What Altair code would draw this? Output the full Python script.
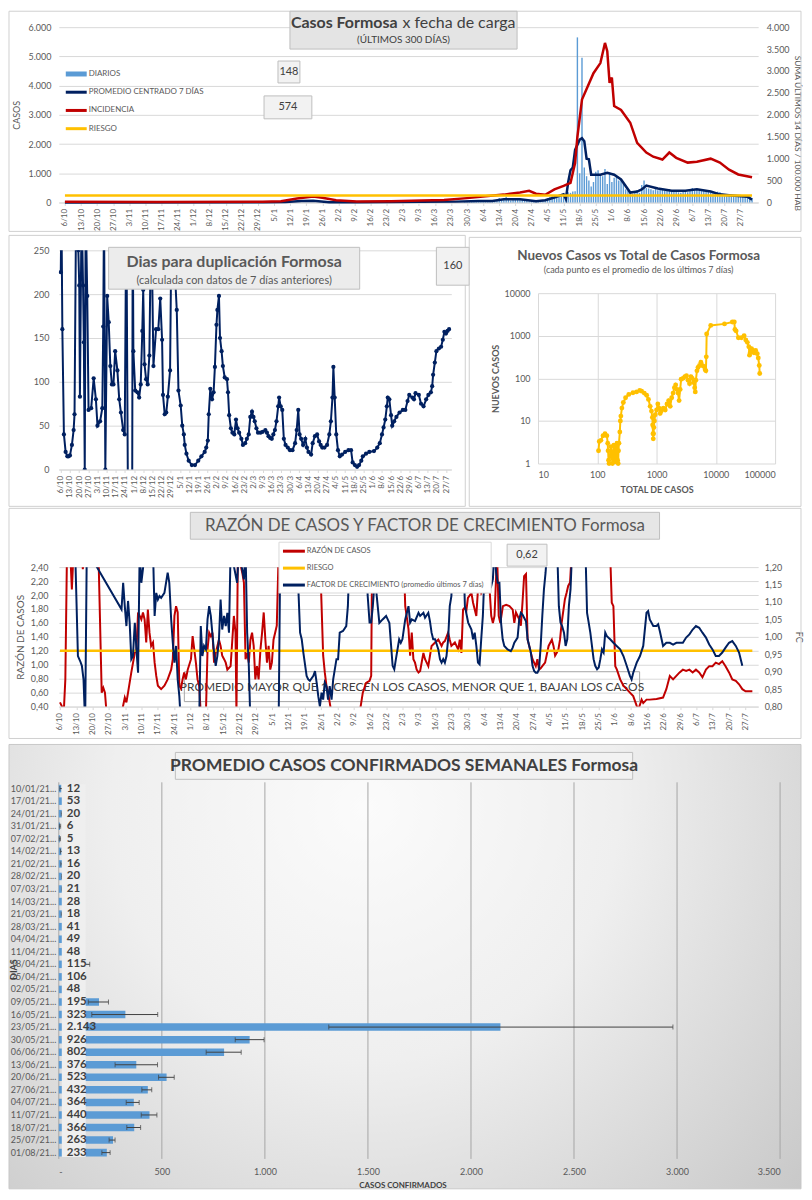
import altair as alt
import pandas as pd

FONT = "Lato"
TXT = "#595959"
DARK = "#404040"
GRID = "#d9d9d9"
BORDER = "#d0d0d0"
C_BAR = "#5b9bd5"
C_NAVY = "#002060"
C_RED = "#c00000"
C_YEL = "#ffc000"

START = "2020-10-06"
TICK_START, TICK_END = "2020-10-06", "2021-07-27"

# ---------------- top chart data ----------------
DAILY_START = "2021-03-29"
DAILY = [35, 60, 45, 55, 40, 50, 58, 42, 55, 60, 38, 50, 45, 46,
         80, 150, 120, 95, 200, 90, 70, 130, 90, 110, 120, 85, 100, 107,
         40, 55, 60, 35, 50, 45, 51, 120, 150, 180, 210, 250, 230, 225,
         240, 280, 300, 350, 330, 380, 381, 5650, 1000, 4950, 1200, 900, 750, 551,
         700, 1050, 1100, 950, 900, 1150, 632, 1000, 700, 850, 900, 750, 780, 634,
         450, 400, 350, 300, 380, 420, 332, 600, 750, 500, 480, 450, 420, 461,
         420, 480, 450, 400, 430, 460, 384, 380, 400, 350, 330, 360, 380, 348,
         420, 500, 460, 430, 450, 410, 410, 400, 380, 350, 360, 340, 370, 362,
         300, 280, 270, 250, 260, 240, 241, 250, 260, 250, 240, 245, 238, 148]

BLUE_DATES = ["2020-10-06", "2020-12-31", "2021-01-10", "2021-01-17", "2021-01-22", "2021-01-29",
              "2021-02-10", "2021-02-25", "2021-03-10", "2021-03-25", "2021-04-04", "2021-04-10",
              "2021-04-15", "2021-04-22", "2021-04-29", "2021-05-03", "2021-05-07", "2021-05-11",
              "2021-05-12", "2021-05-13", "2021-05-14", "2021-05-15", "2021-05-16", "2021-05-18",
              "2021-05-19", "2021-05-20", "2021-05-21", "2021-05-22", "2021-05-23", "2021-05-27",
              "2021-05-30", "2021-06-02", "2021-06-05", "2021-06-09", "2021-06-12", "2021-06-14",
              "2021-06-16", "2021-06-21", "2021-06-27", "2021-07-03", "2021-07-08", "2021-07-14",
              "2021-07-18", "2021-07-22", "2021-07-30", "2021-08-01"]
BLUE_VALS = [3, 5, 20, 55, 60, 10, 8, 15, 22, 30, 50, 48, 110, 110, 45, 80, 170, 280, 120, 700,
             1100, 1200, 1800, 2150, 2200, 2100, 1500, 1480, 950, 950, 1020, 950, 790, 340, 375, 450,
             580, 480, 400, 400, 450, 375, 280, 250, 200, 100]

RED_DATES = ["2020-10-06", "2020-11-15", "2020-12-31", "2021-01-08", "2021-01-15", "2021-01-22",
             "2021-01-26", "2021-02-01", "2021-02-10", "2021-02-25", "2021-03-10", "2021-03-20",
             "2021-03-30", "2021-04-07", "2021-04-15", "2021-04-22", "2021-04-26", "2021-04-29",
             "2021-05-03", "2021-05-07", "2021-05-11", "2021-05-14", "2021-05-16", "2021-05-17",
             "2021-05-19", "2021-05-24", "2021-05-27", "2021-05-29", "2021-05-30", "2021-05-31",
             "2021-06-01", "2021-06-02", "2021-06-05", "2021-06-09", "2021-06-12", "2021-06-16",
             "2021-06-19", "2021-06-23", "2021-06-26", "2021-06-29", "2021-07-04", "2021-07-08",
             "2021-07-14", "2021-07-18", "2021-07-22", "2021-07-26", "2021-08-01"]
RED_VALS = [15, 12, 15, 30, 90, 135, 110, 50, 25, 30, 45, 55, 100, 140, 180, 230, 265, 200, 175, 300,
            380, 450, 900, 1500, 2350, 2950, 3180, 3640, 3450, 2730, 2850, 2200, 2110, 1820, 1360, 1140,
            1045, 980, 1140, 1020, 910, 930, 1000, 910, 750, 640, 574]

RIESGO_DATES = ["2020-10-06", "2021-08-01"]
RIESGO_TOP = [160, 160]
LEGEND_TOP = ["DIARIOS", "PROMEDIO CENTRADO 7 DÍAS", "INCIDENCIA", "RIESGO"]
LEFT_TICKS_TOP = [0, 1000, 2000, 3000, 4000, 5000, 6000]
RIGHT_TICKS_TOP = [0, 500, 1000, 1500, 2000, 2500, 3000, 3500, 4000]

# ---------------- doubling days (day offset from 6/10/2020, value) ----------------
DUP = [(0, 225), (0.5, 300), (1.2, 160), (2.4, 40), (3.7, 20), (5, 15), (6, 15), (7, 16), (8.5, 28),
       (9.8, 45), (10.5, 63), (11.7, 300), (13.4, 250), (14.1, 210), (14.6, 83), (15.9, 300), (17, 210),
       (17.6, 145), (18.3, 0), (19, 300), (20.2, 198), (21.2, 68), (23.2, 70), (25.1, 104), (26.8, 80),
       (28, 50), (30, 55), (31.7, 70), (32.4, 163), (33, 300), (34, 0), (35.4, 198), (36.6, 168),
       (37.8, 118), (39, 97), (40.2, 97), (41.5, 135), (43.2, 113), (44.6, 80), (45.9, 65), (47.6, 45),
       (48.8, 40), (50, 300), (51.5, -100), (54.4, -100), (54.9, 300), (55.4, 135), (56.8, 90),
       (58.5, 88), (59.8, 82), (61, 97), (62.2, 158), (62.9, 205), (63.9, 120), (65.1, 103), (66.3, 97),
       (67.6, 130), (69, 300), (70.7, 118), (72.7, 160), (74.4, 160), (75.9, 195), (77.3, 148), (78, 85),
       (79.3, 63), (80.5, 65), (81.7, 83), (83.4, 113), (84.6, 300), (88.5, 182), (89.8, 90), (91.5, 73),
       (92.7, 50), (93.9, 40), (94.6, 28), (95.9, 18), (97.6, 10), (100, 5), (102.4, 5), (104.9, 10),
       (107.3, 15), (109.8, 20), (111, 25), (112.2, 33), (112.9, 63), (114.1, 92), (115.4, 80),
       (116.6, 88), (117.6, 117), (118.8, 165), (119.5, 182), (120.7, 198), (121.5, 150), (122.7, 135),
       (123.7, 118), (125.1, 105), (126.8, 103), (127.6, 88), (128.5, 62), (129.8, 47), (131, 42),
       (132.4, 40), (133.7, 57), (134.9, 47), (136.1, 42), (137.8, 35), (139, 28), (140.7, 30), (142, 35),
       (143.4, 40), (144.6, 60), (145.9, 66), (147, 60), (148, 55), (149.3, 47), (150.5, 42), (152.4, 42),
       (154.1, 43), (156.1, 45), (157.3, 42), (158.5, 38), (159.8, 36), (161, 35), (162.2, 40),
       (163.4, 45), (164.6, 55), (165.9, 72), (166.6, 82), (167.8, 72), (169, 68), (170.2, 35),
       (171.5, 28), (173.2, 25), (174.9, 22), (176.8, 22), (178.8, 30), (180, 45), (181.2, 68),
       (182.2, 40), (183.4, 35), (184.9, 28), (186.6, 35), (187.8, 25), (189, 20), (191, 17), (192.2, 30),
       (193.9, 38), (195.6, 40), (197.1, 32), (198.3, 28), (199.5, 25), (201.2, 25), (203.2, 28),
       (204.9, 40), (206.1, 55), (207.3, 82), (208, 117), (209, 82), (210.2, 40), (211.5, 22),
       (212.9, 15), (214.6, 17), (217, 20), (219.5, 22), (221.5, 22), (222.7, 8), (224.4, 5), (226.1, 3),
       (227.6, 5), (229.3, 10), (230.5, 15), (232.9, 18), (235.4, 20), (239, 21), (241.5, 25),
       (243.4, 30), (245.1, 40), (246.3, 48), (247.6, 57), (248.8, 72), (249.5, 82), (250.7, 80),
       (252, 62), (252.9, 50), (254.4, 55), (256.1, 60), (258.5, 65), (261, 68), (262.9, 68),
       (264.6, 78), (265.9, 85), (268.3, 82), (269.5, 80), (270.7, 87), (273.2, 85), (274.9, 75),
       (276.8, 72), (278.8, 80), (280.5, 85), (282.4, 88), (283.4, 95), (284.1, 108), (285.4, 122),
       (286.6, 135), (288.5, 138), (290.2, 140), (291.5, 148), (292.7, 157), (293.9, 155), (295.1, 158),
       (296.3, 160)]
DUP_TICKS = [0, 50, 100, 150, 200, 250]

# ---------------- new vs total (log-log) ----------------
TOTAL = [105, 108, 115, 125, 135, 145, 150, 152, 155, 158, 165, 170, 175, 180, 185, 190, 195, 200, 205, 210,
         215, 220, 225, 228, 232, 240, 245, 250, 260, 275, 300, 340, 400, 460, 520, 560, 620, 680, 730, 780,
         820, 850, 860, 870, 880, 890, 900, 920, 950, 1000, 1050, 1100, 1150, 1200, 1300, 1400, 1500, 1600,
         1700, 1800, 1900, 2000, 2100, 2200, 2300, 2400, 2500, 2600, 2800, 3000, 3200, 3400, 3600, 3800,
         4000, 4200, 4400, 4500, 4600, 4800, 5000, 5300, 5600, 5900, 6300, 6600, 6800, 6900, 7000, 8200,
         14000, 19000, 20500, 21000, 22000, 24000, 27000, 30000, 32000, 34000, 36000, 37000, 38000, 40000,
         42000, 44000, 47000, 50000, 52000, 54000, 55000]
NUEVOS = [2.0, 3.3, 3.5, 4.5, 5.0, 4.5, 3.0, 2.0, 1.2, 1.0, 1.5, 2.5, 1.8, 1.0, 1.3, 2.7, 2.0, 1.1, 1.5, 2.3,
          3.0, 1.2, 1.0, 2.0, 3.0, 5.5, 10, 13, 20, 27, 35, 42, 46, 48, 52, 50, 45, 40, 32, 22,
          17, 12, 8, 5, 3.8, 5, 7, 10, 14, 18, 25, 20, 15, 17, 20, 18, 25, 30, 22, 35,
          45, 60, 70, 55, 45, 30, 55, 95, 100, 110, 115, 90, 75, 110, 100, 80, 60, 48, 90, 150,
          180, 200, 240, 200, 190, 160, 150, 320, 1100, 1750, 1900, 2100, 2100, 1400, 1300, 900, 900, 1000,
          800, 700, 550, 350, 400, 500, 450, 400, 450, 380, 300, 200, 130]
LOG_X_TICKS = [10, 100, 1000, 10000, 100000]
LOG_Y_TICKS = [1, 10, 100, 1000, 10000]

# ---------------- razon de casos / factor de crecimiento ----------------
RAZON = [(0, 0.46), (0.9, 0.40), (1.6, 0.30), (2.3, 0.79), (3.0, 2.6), (4.4, 2.6), (5.1, 2.08), (5.8, 2.6),
         (9.4, 2.6), (9.8, 2.37), (10.5, 2.6), (16.5, 2.6), (17.9, 0.60), (18.6, 0.67), (19.3, 0.60),
         (20.0, 0.30), (26.4, 0.30), (27.8, 0.53), (28.5, 0.46), (29.2, 0.60), (30.6, 0.89), (32.1, 1.17),
         (32.8, 1.22), (33.5, 1.75), (34.2, 1.70), (34.9, 1.65), (35.6, 1.75), (36.3, 1.65), (37.0, 1.32),
         (37.7, 1.79), (38.4, 1.46), (39.1, 1.27), (39.9, 1.32), (40.6, 1.03), (41.3, 0.84), (42.0, 0.70),
         (43.4, 0.65), (44.8, 0.70), (46.2, 0.79), (47.7, 0.93), (48.4, 1.08), (49.1, 1.70), (49.8, 1.84),
         (50.5, 1.75), (51.2, 0.70), (51.9, 0.66), (52.6, 0.79), (53.3, 0.89), (54.0, 0.79), (54.8, 0.93),
         (56.2, 1.08), (56.9, 1.41), (57.6, 1.22), (58.3, 1.03), (59.0, 0.79), (59.7, 0.70), (60.4, 0.30),
         (62.6, 0.30), (63.3, 1.22), (64.0, 1.46), (64.7, 1.41), (65.4, 1.46), (66.1, 1.03), (66.8, 1.17),
         (68.2, 1.36), (68.9, 1.27), (69.6, 1.13), (70.4, 1.08), (71.1, 1.03), (71.8, 0.93), (73.2, 0.98),
         (74.6, 1.70), (75.3, 1.46), (75.7, 0.30), (76.3, 2.6), (78.2, 2.32), (78.9, 2.18), (79.6, 1.08),
         (80.3, 1.17), (81.0, 1.03), (81.7, 1.36), (82.4, 1.46), (83.1, 1.27), (83.8, 0.79), (84.5, 0.98),
         (85.2, 0.79), (86.0, 1.22), (86.7, 1.46), (87.4, 1.75), (88.1, 1.36), (88.8, 1.03), (89.5, 1.27),
         (90.2, 0.93), (90.9, 1.03), (91.6, 1.36), (92.3, 1.46), (93.0, 1.56), (93.8, 2.6), (111.5, 2.6),
         (112.9, 1.13), (113.6, 0.89), (114.3, 0.70), (115.0, 0.60), (115.7, 0.46), (116.5, 0.30),
         (128.5, 0.30), (129.9, 0.60), (131.3, 0.74), (132.8, 0.77), (133.5, 0.84), (133.9, 2.6),
         (147.4, 2.6), (148.1, 1.84), (149.5, 1.51), (150.2, 1.13), (150.9, 1.46), (151.6, 1.08),
         (152.3, 1.03), (153.0, 0.93), (153.8, 0.89), (154.5, 0.91), (155.9, 1.17), (156.6, 1.08),
         (157.3, 1.03), (158.0, 0.98), (159.4, 1.27), (160.9, 1.32), (162.3, 1.36), (163.7, 1.27),
         (164.4, 1.32), (165.1, 1.34), (166.5, 1.46), (167.2, 1.36), (167.9, 1.27), (169.4, 1.32),
         (170.8, 1.22), (171.5, 1.36), (172.2, 1.17), (172.9, 1.79), (173.6, 1.82), (174.3, 1.77),
         (175.0, 1.96), (176.5, 2.03), (177.2, 1.89), (178.6, 1.70), (179.3, 2.08), (180.0, 2.13),
         (180.7, 2.03), (182.1, 2.13), (182.8, 2.03), (183.5, 2.6), (184.3, 2.08), (185.0, 1.70),
         (185.7, 1.60), (186.4, 1.70), (187.5, 2.6), (188.2, 1.70), (188.9, 1.60), (190.0, 1.84),
         (191.4, 1.86), (192.8, 1.84), (194.2, 1.79), (194.9, 1.60), (195.6, 1.75), (197.0, 1.65),
         (197.7, 1.56), (198.4, 1.89), (199.1, 2.27), (199.9, 2.30), (200.6, 1.36), (201.3, 1.27),
         (202.0, 1.17), (202.7, 1.08), (203.4, 1.03), (204.1, 0.98), (204.8, 1.08), (205.5, 0.93),
         (206.2, 0.95), (206.9, 0.98), (208.1, 1.03), (209.6, 1.27), (211.0, 1.36), (211.7, 1.27),
         (212.4, 1.13), (213.1, 1.17), (213.8, 1.22), (214.5, 1.36), (215.2, 1.60), (216.6, 1.94),
         (217.3, 2.03), (218.0, 2.13), (218.8, 2.18), (219.5, 2.6), (236.0, 2.6), (236.7, 1.89),
         (237.4, 1.84), (238.2, 0.98), (238.9, 0.93), (240.3, 0.79), (241.7, 0.70), (243.1, 0.65),
         (244.5, 0.60), (245.9, 0.55), (247.4, 0.41), (248.1, 0.36), (249.5, 0.50), (250.2, 0.45),
         (251.6, 0.50), (253.0, 0.50), (255.9, 0.51), (258.7, 0.53), (260.1, 0.65), (261.6, 0.84),
         (263.0, 0.79), (264.4, 0.84), (265.8, 0.89), (267.2, 0.93), (268.6, 0.91), (270.0, 0.93),
         (271.4, 0.89), (272.8, 0.93), (274.2, 0.89), (275.6, 0.82), (277.1, 0.93), (278.5, 0.98),
         (279.9, 0.98), (281.3, 1.03), (282.7, 1.01), (284.1, 1.05), (285.5, 0.98), (287.0, 0.89),
         (288.4, 0.79), (289.9, 0.77), (291.3, 0.72), (292.7, 0.65), (294.1, 0.62), (295.6, 0.62),
         (297.0, 0.62)]
FC = [(0, 1.25), (6.5, 1.25), (7.7, 0.945), (8.7, 0.93), (9.4, 0.917), (10.1, 0.878), (10.8, 0.75),
      (11.5, 1.25), (26.4, 1.079), (27.1, 1.155), (27.8, 1.088), (28.5, 1.031), (29.2, 1.103), (29.9, 1.04),
      (30.6, 0.936), (31.3, 0.945), (32.1, 1.04), (32.8, 0.964), (33.5, 0.897), (34.2, 1.25), (34.9, 1.155),
      (35.6, 1.195), (36.3, 1.25), (39.9, 1.25), (40.6, 1.06), (41.3, 1.126), (42.0, 1.107), (42.7, 1.117),
      (43.4, 1.112), (44.8, 1.126), (46.2, 1.184), (46.9, 1.155), (47.7, 1.05), (48.4, 0.983), (49.1, 0.926),
      (49.8, 0.974), (50.5, 0.878), (51.2, 0.83), (51.9, 0.75), (59.7, 0.75), (60.4, 1.031), (61.1, 0.945),
      (61.8, 0.974), (62.6, 0.964), (63.3, 1.05), (64.0, 1.088), (64.7, 1.06), (66.1, 0.955), (66.8, 0.917),
      (67.5, 0.945), (68.2, 0.993), (68.9, 1.107), (69.6, 1.021), (70.4, 1.06), (71.1, 1.031), (71.8, 1.069),
      (72.5, 1.012), (73.2, 1.25), (76.0, 1.155), (76.7, 1.25), (78.9, 1.165), (79.6, 1.25), (80.3, 1.012),
      (81.0, 0.917), (81.7, 0.75), (93.8, 0.75), (94.5, 1.25), (101.6, 1.25), (103.0, 1.012), (103.7, 0.993),
      (104.4, 0.955), (105.8, 0.888), (106.5, 0.878), (107.2, 0.874), (108.7, 0.888), (109.4, 0.902),
      (110.1, 0.869), (110.8, 0.83), (111.5, 0.80), (112.2, 0.84), (112.9, 0.82), (113.6, 0.869),
      (114.3, 0.859), (115.0, 0.82), (115.7, 0.859), (116.5, 0.82), (117.2, 0.878), (118.6, 0.936),
      (119.3, 0.936), (120.0, 1.012), (121.4, 1.017), (122.8, 1.031), (123.5, 1.088), (124.3, 1.25),
      (131.3, 1.25), (132.0, 1.117), (132.8, 1.041), (133.5, 1.041), (134.2, 1.088), (134.9, 1.155),
      (135.6, 1.136), (137.0, 1.04), (138.4, 1.05), (139.9, 1.06), (141.3, 1.04), (142.7, 0.917),
      (143.4, 0.907), (144.1, 0.936), (145.5, 0.993), (146.2, 0.983), (146.9, 0.993), (148.1, 1.05),
      (149.5, 1.088), (150.2, 1.041), (150.9, 1.05), (152.3, 1.045), (153.8, 1.069), (154.5, 1.06),
      (155.9, 1.069), (156.6, 1.055), (158.0, 1.069), (158.7, 1.045), (159.4, 1.012), (160.1, 0.993),
      (160.9, 0.993), (162.3, 0.964), (163.0, 0.936), (163.7, 0.926), (164.4, 0.936), (165.1, 0.926),
      (165.8, 0.945), (166.5, 0.993), (167.2, 1.088), (167.9, 1.117), (168.7, 1.25), (173.0, 1.25),
      (173.7, 1.088), (175.1, 1.041), (176.5, 1.021), (177.2, 0.993), (177.9, 1.012), (178.6, 0.974),
      (179.3, 0.926), (180.0, 0.921), (180.7, 0.993), (181.4, 1.06), (182.1, 1.184), (182.8, 1.193),
      (183.5, 1.165), (184.3, 1.155), (185.0, 1.146), (185.7, 1.165), (186.4, 1.25), (187.1, 1.184),
      (187.8, 1.155), (188.5, 1.155), (189.2, 1.041), (189.9, 0.993), (190.6, 0.974), (192.0, 0.964),
      (193.4, 0.959), (194.2, 0.969), (194.9, 0.983), (196.3, 0.998), (197.0, 1.05), (197.7, 1.069),
      (198.4, 1.064), (199.1, 1.055), (199.9, 1.045), (200.6, 0.993), (201.3, 0.974), (202.0, 0.955),
      (202.7, 0.917), (203.4, 0.902), (204.1, 0.897), (204.8, 0.897), (205.5, 0.907), (206.2, 0.974),
      (206.9, 1.06), (207.6, 1.136), (208.3, 1.184), (209.0, 1.25), (213.3, 1.25), (214.0, 1.088),
      (214.7, 1.041), (215.4, 1.031), (216.2, 1.012), (216.9, 0.974), (217.6, 0.993), (218.3, 1.088),
      (219.0, 1.136), (219.7, 1.25), (225.4, 1.25), (226.1, 1.069), (226.8, 1.041), (227.5, 1.012),
      (228.9, 0.936), (229.6, 0.917), (230.4, 0.907), (231.1, 0.912), (231.8, 0.936), (232.5, 0.964),
      (233.2, 0.955), (233.9, 1.012), (234.6, 1.002), (236.0, 0.993), (237.4, 0.983), (238.8, 0.974),
      (240.3, 0.964), (241.7, 0.945), (243.1, 0.917), (244.5, 0.888), (245.2, 0.878), (245.9, 0.897),
      (247.4, 0.926), (248.8, 0.945), (250.2, 0.974), (251.6, 1.069), (252.3, 1.074), (253.0, 1.05),
      (254.5, 1.031), (255.9, 1.031), (256.6, 1.036), (257.3, 1.017), (258.7, 0.974), (260.1, 0.983),
      (261.6, 0.983), (263.0, 0.978), (264.4, 0.983), (265.8, 0.983), (267.2, 0.983), (268.6, 0.998),
      (270.0, 1.007), (271.4, 1.021), (272.8, 1.031), (274.2, 1.026), (275.6, 1.012), (277.1, 0.998),
      (278.5, 0.978), (279.9, 0.964), (281.3, 0.945), (282.7, 0.945), (284.1, 0.955), (285.5, 0.969),
      (287.0, 0.983), (288.4, 0.988), (289.9, 0.974), (291.3, 0.955), (292.7, 0.917)]
RIESGO_RAZON_DAYS = [0, 297]
RIESGO_RAZON = [1.2, 1.2]
RAZON_TICKS = [0.4, 0.6, 0.8, 1.0, 1.2, 1.4, 1.6, 1.8, 2.0, 2.2, 2.4]
FC_TICKS = [0.80, 0.85, 0.90, 0.95, 1.00, 1.05, 1.10, 1.15, 1.20]
LEGEND_RAZON = ["RAZÓN DE CASOS", "RIESGO", "FACTOR DE CRECIMIENTO (promedio últimos 7 días)"]

# ---------------- weekly averages ----------------
WEEKS = ["10/01/21...", "17/01/21...", "24/01/21...", "31/01/21...", "07/02/21...", "14/02/21...",
         "21/02/21...", "28/02/21...", "07/03/21...", "14/03/21...", "21/03/21...", "28/03/21...",
         "04/04/21...", "11/04/21...", "18/04/21...", "25/04/21...", "02/05/21...", "09/05/21...",
         "16/05/21...", "23/05/21...", "30/05/21...", "06/06/21...", "13/06/21...", "20/06/21...",
         "27/06/21...", "04/07/21...", "11/07/21...", "18/07/21...", "25/07/21...", "01/08/21..."]
WEEK_AVG = [12, 53, 20, 6, 5, 13, 16, 20, 21, 28, 18, 41, 49, 48, 115, 106, 48, 195, 323, 2143,
            926, 802, 376, 523, 432, 364, 440, 366, 263, 233]
ERR_LO = [5, 40, 12, 3, 2, 8, 10, 14, 15, 20, 12, 30, 38, 38, 80, 85, 38, 143, 160, 1310,
          856, 715, 273, 484, 403, 327, 400, 330, 244, 209]
ERR_HI = [19, 66, 28, 9, 8, 18, 22, 26, 27, 36, 24, 52, 60, 58, 150, 127, 58, 241, 480, 2980,
          996, 885, 479, 560, 451, 390, 476, 397, 273, 249]
BOTTOM_TICKS = [0, 500, 1000, 1500, 2000, 2500, 3000, 3500]

# ---------------- helpers ----------------
THOUSANDS = "replace(format(datum.value, ','), ',', '.')"
DEC2 = "replace(format(datum.value, '.2f'), '.', ',')"
ONE = pd.DataFrame({"t": [""]})


def iso_days(days):
    base = pd.Timestamp(START)
    return [(base + pd.Timedelta(days=float(d))).strftime("%Y-%m-%dT%H:%M:%SZ") for d in days]


def dt(s):
    t = pd.Timestamp(s)
    return alt.DateTime(year=t.year, month=t.month, date=t.day, hours=t.hour, utc=True)


TICKS = [dt(d) for d in pd.date_range(TICK_START, TICK_END, freq="7D")]


def rect(x1, y1, x2, y2, fill, stroke="transparent", sw=1):
    return alt.Chart(ONE).mark_rect(fill=fill, stroke=stroke, strokeWidth=sw).encode(
        x=alt.value(x1), x2=alt.value(x2), y=alt.value(y1), y2=alt.value(y2))


def text(x, y, s, size, weight="normal", color=TXT, align="center", angle=0):
    kw = dict(font=FONT, fontSize=size, fontWeight=weight, color=color, align=align, baseline="middle")
    if angle:
        kw["angle"] = angle
    return alt.Chart(pd.DataFrame({"t": [s]})).mark_text(**kw).encode(
        x=alt.value(x), y=alt.value(y), text="t:N")


def hline(x1, x2, y, color, sw):
    return alt.Chart(ONE).mark_rule(color=color, strokeWidth=sw).encode(
        x=alt.value(x1), x2=alt.value(x2), y=alt.value(y))


def spacer(h):
    return alt.Chart(ONE).mark_point(opacity=0, size=1).encode(
        x=alt.value(0), y=alt.value(0)).properties(width=1, height=h)


def x_time(d0, d1):
    return alt.X("date:T", scale=alt.Scale(type="utc", domain=[dt(d0), dt(d1)]),
                 axis=alt.Axis(values=TICKS, format="%-d/%-m", labelAngle=-90, labelFontSize=8,
                               labelColor=TXT, labelPadding=3, labelOverlap=False, labelFlush=False,
                               title=None, grid=False, domainColor=GRID, tickColor=GRID, tickSize=3))


# ================= TOP CHART =================
x_top = x_time("2020-10-05 12:00", "2021-08-01 12:00")
daily_df = pd.DataFrame({"date": pd.date_range(DAILY_START, periods=len(DAILY)).strftime("%Y-%m-%d"),
                         "v": DAILY})
blue_df = pd.DataFrame({"date": BLUE_DATES, "v": BLUE_VALS})
red_df = pd.DataFrame({"date": RED_DATES, "v": RED_VALS})
riesgo_df = pd.DataFrame({"date": RIESGO_DATES, "v": RIESGO_TOP})

left_axis = alt.Axis(values=LEFT_TICKS_TOP, labelExpr=THOUSANDS, title="CASOS", titleFontSize=9,
                     titleFontWeight="normal", grid=True, gridColor=GRID, domain=False, ticks=False,
                     labelFontSize=9, labelPadding=8, titlePadding=6, labelOverlap=False)
right_axis = alt.Axis(orient="right", values=RIGHT_TICKS_TOP, labelExpr=THOUSANDS,
                      title="SUMA  ÚLTIMOS 14 DÍAS / 100.000 HAB", titleFontSize=8.5, titleY=106,
                      titleFontWeight="normal", grid=False, domain=False, ticks=False,
                      labelFontSize=9, labelPadding=8, titlePadding=3, labelOverlap=False)
y_left_top = alt.Y("v:Q", scale=alt.Scale(domain=[0, 6000], nice=False), axis=left_axis)
y_right_top = alt.Y("v:Q", scale=alt.Scale(domain=[0, 4000], nice=False), axis=right_axis)

bars = alt.Chart(daily_df).mark_bar(size=1.4, color=C_BAR).encode(x=x_top, y=y_left_top)
blue = alt.Chart(blue_df).mark_line(color=C_NAVY, strokeWidth=2.5).encode(x=x_top, y=y_left_top)
red = alt.Chart(red_df).mark_line(color=C_RED, strokeWidth=2.5).encode(x=x_top, y=y_right_top)
yel = alt.Chart(riesgo_df).mark_line(color=C_YEL, strokeWidth=2.5).encode(x=x_top, y=y_right_top)

top_leg = []
for i, (lab, col, sw) in enumerate(zip(LEGEND_TOP, [C_BAR, C_NAVY, C_RED, C_YEL], [5, 3, 3, 3])):
    yy = 47 + i * 18.3
    top_leg += [hline(7, 28, yy, col, sw), text(30, yy, lab, 8, align="left")]

top = alt.layer(
    rect(-50, -16, 745, 205, "transparent", BORDER),
    alt.layer(bars, blue),
    alt.layer(red, yel),
    *top_leg,
    rect(232, -16, 460, 22, "#e4e4e4", "#bfbfbf"),
    text(340, -4, "Casos Formosa", 16, "bold", DARK, "right"),
    text(345, -4, "x fecha de carga", 16, "normal", DARK, "left"),
    text(346, 13, "(ÚLTIMOS 300 DÍAS)", 10, color=DARK),
    rect(220, 34, 242, 56, "#f2f2f2", "#bfbfbf"),
    text(231, 45, str(DAILY[-1]), 11, color=DARK),
    rect(206, 69, 254, 92, "#f2f2f2", "#bfbfbf"),
    text(230, 80.5, str(RED_VALS[-1]), 11, color=DARK),
).resolve_scale(y="independent").properties(width=702, height=176)

# ================= DOUBLING CHART =================
x_dup = x_time("2020-10-04 12:00", "2021-07-31 00:00")
dup_df = pd.DataFrame({"date": iso_days([d for d, _ in DUP]), "v": [v for _, v in DUP]})
dup_y = alt.Y("v:Q", scale=alt.Scale(domain=[0, 250], nice=False),
              axis=alt.Axis(values=DUP_TICKS, grid=True, gridColor=GRID, domain=False, ticks=False,
                            labelFontSize=9, labelPadding=10, title=None, labelOverlap=False))
dup_line = alt.Chart(dup_df).mark_line(color=C_NAVY, strokeWidth=2, clip=True).encode(x=x_dup, y=dup_y)
dup_pts = alt.Chart(dup_df).mark_circle(color=C_NAVY, size=18, opacity=1, clip=True).encode(x=x_dup, y=dup_y)

midleft = alt.layer(
    rect(-50, -15, 408, 257, "transparent", BORDER),
    dup_line, dup_pts,
    rect(50, -3, 302, 39, "#ececec", "#bfbfbf"),
    text(176, 12, "Dias para duplicación Formosa", 16, "bold", TXT),
    text(176, 31, "(calculada con datos de 7 días anteriores)", 11, "normal", TXT),
    rect(379, -3, 412, 35, "#f2f2f2", "#bfbfbf"),
    text(395.5, 16, str(DUP[-1][1]), 11, color=DARK),
).properties(width=394, height=220)

# ================= SCATTER =================
sc_df = pd.DataFrame({"i": list(range(len(TOTAL))), "total": TOTAL, "nuevos": NUEVOS})
sx = alt.X("total:Q", scale=alt.Scale(type="log", domain=[10, 100000], nice=False),
           axis=alt.Axis(values=LOG_X_TICKS, format="d", grid=True, gridColor=GRID, domain=False,
                         ticks=False, title="TOTAL DE CASOS", titleFontWeight="bold", titleFontSize=9,
                         labelFontSize=9, labelPadding=7, titlePadding=6, labelOverlap=False))
sy = alt.Y("nuevos:Q", scale=alt.Scale(type="log", domain=[1, 10000], nice=False),
           axis=alt.Axis(values=LOG_Y_TICKS, format="d", grid=True, gridColor=GRID, domain=False,
                         ticks=False, title="NUEVOS CASOS", titleFontWeight="bold", titleFontSize=9,
                         labelFontSize=9, labelPadding=8, titlePadding=4, labelOverlap=False))
s_line = alt.Chart(sc_df).mark_line(color=C_YEL, strokeWidth=2).encode(x=sx, y=sy, order="i:Q")
s_pts = alt.Chart(sc_df).mark_circle(color=C_YEL, size=24, opacity=1).encode(x=sx, y=sy)

scatter = alt.layer(
    rect(-69, -56, 264, 214, "transparent", BORDER),
    s_line, s_pts,
    text(101, -37, "Nuevos Casos vs Total de Casos Formosa", 13.5, "bold", TXT),
    text(101, -23, "(cada punto es el promedio de los últimos 7 días)", 9, "normal", TXT),
).properties(width=238, height=171)

# ================= RAZON CHART =================
x_raz = x_time("2020-10-05 12:00", "2021-08-01 12:00")
raz_df = pd.DataFrame({"date": iso_days([d for d, _ in RAZON]), "v": [v for _, v in RAZON]})
fc_df = pd.DataFrame({"date": iso_days([d for d, _ in FC]), "v": [v for _, v in FC]})
rr_df = pd.DataFrame({"date": iso_days(RIESGO_RAZON_DAYS), "v": RIESGO_RAZON})

raz_axis = alt.Axis(values=RAZON_TICKS, labelExpr=DEC2, title="RAZÓN DE CASOS", titleFontSize=10,
                    titleFontWeight="normal", grid=True, gridColor=GRID, domain=False, ticks=False,
                    labelFontSize=9, labelPadding=11, titlePadding=5, labelOverlap=False)
fc_axis = alt.Axis(orient="right", values=FC_TICKS, labelExpr=DEC2, title="FC", titleFontSize=9,
                   titleFontWeight="normal", grid=False, domain=False, ticks=False,
                   labelFontSize=9, labelPadding=6, titlePadding=12, labelOverlap=False)
y_raz = alt.Y("v:Q", scale=alt.Scale(domain=[0.4, 2.4], nice=False, zero=False), axis=raz_axis)
y_fc = alt.Y("v:Q", scale=alt.Scale(domain=[0.8, 1.2], nice=False, zero=False), axis=fc_axis)

raz_line = alt.Chart(raz_df).mark_line(color=C_RED, strokeWidth=2, clip=True).encode(x=x_raz, y=y_raz)
rr_line = alt.Chart(rr_df).mark_line(color=C_YEL, strokeWidth=2.5).encode(x=x_raz, y=y_raz)
fc_line = alt.Chart(fc_df).mark_line(color=C_NAVY, strokeWidth=2, clip=True).encode(x=x_raz, y=y_fc)

raz_leg = [rect(221, -25, 434, 26, "white", "#d9d9d9")]
for i, (lab, col) in enumerate(zip(LEGEND_RAZON, [C_RED, C_YEL, C_NAVY])):
    yy = -16 + i * 17
    raz_leg += [hline(225, 247, yy, col, 3), text(249, yy, lab, 7.5, align="left")]

razon = alt.layer(
    rect(-50, -59, 745, 172, "transparent", BORDER),
    rect(126, 105, 583, 135, "transparent", "#a6a6a6"),
    text(354.5, 120, "PROMEDIO MAYOR QUE 1, CRECEN LOS CASOS, MENOR QUE 1, BAJAN LOS CASOS", 12, color=DARK),
    alt.layer(raz_line, rr_line),
    fc_line,
    *raz_leg,
    rect(450, -23, 490, -1, "#f2f2f2", "#bfbfbf"),
    text(470, -12, f"{RAZON[-1][1]:.2f}".replace(".", ","), 11, color=DARK),
    rect(132, -55, 603, -28, "#e6e6e6", "#bfbfbf"),
    text(367.5, -41.5, "RAZÓN DE CASOS Y FACTOR DE CRECIMIENTO Formosa", 17, color=TXT),
).resolve_scale(y="independent").properties(width=702, height=140)

# ================= WEEKLY BARS =================
wk_df = pd.DataFrame({"week": WEEKS, "avg": WEEK_AVG, "lo": ERR_LO, "hi": ERR_HI,
                      "txt": [f"{v:,}".replace(",", ".") for v in WEEK_AVG]})
grid_df = pd.DataFrame({"avg": BOTTOM_TICKS})
bx_axis = alt.Axis(values=BOTTOM_TICKS,
                   labelExpr="datum.value == 0 ? '-' : " + THOUSANDS,
                   grid=False, domain=False, ticks=False, title="CASOS CONFIRMADOS",
                   titleFontSize=8, titleFontWeight="bold", titleColor=DARK, titleX=345,
                   labelFontSize=9, labelPadding=9, titlePadding=5, zindex=1, labelOverlap=False)
bscale = alt.Scale(domain=[0, 3500], nice=False)
by = alt.Y("week:N", sort=WEEKS, scale=alt.Scale(paddingInner=0.4, paddingOuter=0.2),
           axis=alt.Axis(title=None, labelFontSize=9, labelColor=TXT, domain=False, ticks=False,
                         labelPadding=3, zindex=1))

grad = alt.RadialGradient(gradient="radial", x1=0.45, y1=0.3, x2=0.45, y2=0.3, r1=0, r2=0.8,
                          stops=[alt.GradientStop(offset=0, color="#fbfbfb"),
                                 alt.GradientStop(offset=0.4, color="#efefef"),
                                 alt.GradientStop(offset=1, color="#c2c2c2")])

b_grid = alt.Chart(grid_df).mark_rule(color="#a6a6a6", strokeWidth=1).encode(
    x=alt.X("avg:Q", scale=bscale, axis=bx_axis), y=alt.value(0), y2=alt.value(378))
b_bars = alt.Chart(wk_df).mark_bar(color=C_BAR).encode(
    x=alt.X("avg:Q", scale=bscale, axis=bx_axis), y=by)
b_err = alt.Chart(wk_df).mark_rule(color=DARK, strokeWidth=1).encode(
    x=alt.X("lo:Q", scale=bscale, axis=bx_axis), x2="hi:Q", y=by)
b_cap_lo = alt.Chart(wk_df).mark_tick(color=DARK, thickness=1, size=5).encode(
    x=alt.X("lo:Q", scale=bscale, axis=bx_axis), y=by)
b_cap_hi = alt.Chart(wk_df).mark_tick(color=DARK, thickness=1, size=5).encode(
    x=alt.X("hi:Q", scale=bscale, axis=bx_axis), y=by)
b_labels = alt.Chart(wk_df).mark_text(align="left", baseline="middle", font=FONT, fontSize=11.5,
                                      fontWeight="bold", color=DARK).encode(
    x=alt.value(8), y=by, text="txt:N")

bottom = alt.layer(
    rect(-50, -38, 745, 408, grad, "#c8c8c8"),
    b_grid, b_bars, b_err, b_cap_lo, b_cap_hi,
    rect(3, 2, 27, 376, "#efefef"),
    b_labels,
    rect(117, -30, 576, -3, "#f2f2f2", "#bfbfbf"),
    text(346.5, -16.5, "PROMEDIO CASOS CONFIRMADOS SEMANALES Formosa", 17.5, "bold", DARK),
    text(-45, 188, "DIAS", 9, "bold", DARK, angle=270),
).properties(width=724, height=378)

# ================= LAYOUT =================
# (a nested concat counts as zero height in a flush layout, so the spacer below it adds its height)
mid = alt.hconcat(midleft, alt.vconcat(spacer(43), scatter, spacing=0, bounds="flush"),
                  spacing=87, bounds="flush")

chart = alt.vconcat(top, spacer(48), mid, spacer(220 + 98), razon, spacer(76), bottom,
                    spacing=0, bounds="flush").properties(
    padding={"left": 0, "top": 0, "right": 0, "bottom": 0}
).configure(font=FONT).configure_view(stroke="transparent").configure_axis(
    labelFont=FONT, titleFont=FONT, labelColor=TXT, titleColor=TXT)

chart.save("out.html", embed_options={"renderer": "svg", "actions": False})
